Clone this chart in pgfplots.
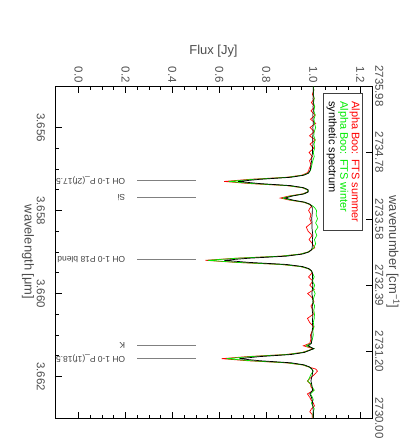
\documentclass[border=0pt]{standalone}
\usepackage{fontspec}
\setmainfont{Liberation Sans}
\usepackage{pgfplots}
\pgfplotsset{compat=1.18}
\usepackage{pgfplotstable}

\definecolor{idlred}{RGB}{255,0,0}
\definecolor{idlgreen}{RGB}{0,235,0}
\definecolor{labgray}{gray}{0.3}
\definecolor{linegray}{gray}{0.5}

% wavelength [micron], summer (r), winter (g), synthetic (k)
\pgfplotstableread{
wl r g k
3.65500 1.000 1.000 1.000
3.65510 1.002 1.002 1.000
3.65520 0.996 1.000 1.000
3.65530 1.004 1.004 0.999
3.65540 0.992 1.001 1.000
3.65550 1.006 1.006 0.999
3.65560 0.990 1.002 1.000
3.65570 1.008 1.008 0.998
3.65580 0.988 1.003 0.999
3.65590 1.010 1.005 1.000
3.65600 0.986 1.010 0.998
3.65610 1.004 1.004 0.999
3.65620 0.984 1.002 0.998
3.65630 1.008 1.008 0.997
3.65640 0.986 1.003 0.999
3.65650 1.002 1.006 0.996
3.65660 0.982 1.000 0.997
3.65670 0.996 1.004 0.994
3.65680 0.984 0.998 0.993
3.65690 0.990 0.994 0.990
3.65700 0.982 0.990 0.988
3.65705 0.980 0.986 0.985
3.65710 0.972 0.978 0.980
3.65715 0.950 0.955 0.960
3.65720 0.885 0.892 0.904
3.65725 0.726 0.741 0.770
3.65730 0.620 0.640 0.680
3.65735 0.726 0.741 0.770
3.65740 0.886 0.892 0.904
3.65745 0.952 0.954 0.959
3.65750 0.974 0.976 0.978
3.65755 0.976 0.977 0.979
3.65760 0.954 0.957 0.961
3.65765 0.897 0.905 0.912
3.65770 0.860 0.870 0.880
3.65775 0.899 0.906 0.914
3.65780 0.958 0.961 0.964
3.65785 0.983 0.984 0.986
3.65790 0.993 1.000 0.994
3.65795 0.985 1.008 0.996
3.65800 0.980 1.014 0.996
3.65810 0.990 1.012 0.995
3.65820 0.985 1.018 0.993
3.65830 0.992 1.010 0.995
3.65840 0.970 1.020 0.994
3.65850 0.978 1.008 0.996
3.65860 0.995 1.015 0.998
3.65870 0.982 1.005 0.996
3.65880 0.996 1.010 0.997
3.65890 1.006 1.002 0.995
3.65895 0.991 0.991 0.992
3.65900 0.977 0.978 0.981
3.65905 0.945 0.946 0.954
3.65910 0.862 0.865 0.886
3.65915 0.669 0.676 0.726
3.65920 0.540 0.550 0.620
3.65925 0.669 0.676 0.726
3.65930 0.862 0.865 0.886
3.65935 0.945 0.946 0.954
3.65940 0.977 0.978 0.981
3.65945 0.991 0.991 0.992
3.65950 0.995 0.996 0.996
3.65960 0.980 1.004 0.997
3.65970 0.998 0.996 0.995
3.65980 0.985 1.006 0.998
3.65990 1.004 1.000 0.996
3.66000 0.976 1.008 0.994
3.66010 0.995 1.002 0.997
3.66020 1.003 0.998 0.999
3.66030 0.990 1.006 0.996
3.66040 0.998 1.002 0.995
3.66050 1.000 1.005 0.998
3.66060 0.975 1.004 0.997
3.66070 0.985 1.000 0.996
3.66080 1.002 1.003 0.998
3.66090 0.996 0.998 0.995
3.66100 0.988 1.000 0.993
3.66110 0.990 0.996 0.994
3.66120 0.985 0.990 0.992
3.66126 0.958 0.970 0.978
3.66133 1.000 1.003 1.002
3.66137 0.980 0.982 0.984
3.66142 0.953 0.956 0.962
3.66147 0.883 0.889 0.906
3.66152 0.719 0.734 0.773
3.66157 0.610 0.630 0.685
3.66162 0.719 0.734 0.773
3.66167 0.883 0.889 0.906
3.66172 0.953 0.956 0.962
3.66177 0.980 0.982 0.984
3.66182 1.010 0.993 0.994
3.66187 1.018 1.000 0.998
3.66195 1.005 0.990 0.996
3.66205 0.985 0.982 0.992
3.66211 0.975 0.976 0.990
3.66218 0.988 0.990 0.993
3.66225 0.990 0.995 0.995
3.66233 1.002 1.004 0.997
3.66242 0.975 0.988 0.985
3.66250 0.985 0.996 0.992
3.66256 0.990 1.000 0.995
3.66264 1.000 0.992 0.997
3.66271 1.005 0.998 0.998
3.66278 0.992 1.004 0.999
3.66285 0.985 1.000 1.000
3.66292 0.996 0.998 1.000
3.66300 0.995 1.000 1.000
}\spec

\begin{document}
\begin{tikzpicture}
\useasboundingbox (-55bp,-27bp) rectangle (345bp,418bp);

\begin{axis}[
    name=main,
    scale only axis,
    width=317bp, height=332bp,
    xmin=-0.1, xmax=1.25,
    ymin=3.655, ymax=3.663,
    y dir=reverse,
    xtick={0,0.2,0.4,0.6,0.8,1.0,1.2},
    xticklabels={0.0,0.2,0.4,0.6,0.8,1.0,1.2},
    minor x tick num=3,
    xticklabel pos=right,
    ytick={3.656,3.658,3.660,3.662},
    yticklabels={3.656,3.658,3.660,3.662},
    minor y tick num=3,
    ytick pos=left,
    tick align=inside,
    major tick length=6.5bp,
    minor tick length=3.5bp,
    tick style={black, line width=0.6bp},
    axis line style={line width=0.9bp},
    tick label style={font=\fontsize{11.5}{12}\selectfont, text=labgray, inner sep=0pt},
    xticklabel style={rotate=-90, anchor=east},
    xticklabel shift=3bp,
    yticklabel style={rotate=-90, anchor=north},
    yticklabel shift=10bp,
]
\addplot[idlred, line width=0.7bp] table[x=r, y=wl] {\spec};
\addplot[idlgreen, line width=0.7bp] table[x=g, y=wl] {\spec};
\addplot[black, line width=0.7bp] table[x=k, y=wl] {\spec};

% line identifications
\addplot[linegray, line width=0.6bp] coordinates {(0.25,3.65728) (0.5,3.65728)};
\addplot[linegray, line width=0.6bp] coordinates {(0.25,3.65768) (0.5,3.65768)};
\addplot[linegray, line width=0.6bp] coordinates {(0.25,3.65918) (0.5,3.65918)};
\addplot[linegray, line width=0.6bp] coordinates {(0.25,3.66126) (0.5,3.66126)};
\addplot[linegray, line width=0.6bp] coordinates {(0.25,3.66157) (0.5,3.66157)};

\begin{scope}[every node/.style={rotate=180, anchor=west, inner sep=0pt,
    font=\fontsize{8.5}{9}\selectfont, text=black!75}]
\node at (axis cs:0.2,3.65728) {OH 1-0 P\_(2f)17.5};
\node at (axis cs:0.2,3.65768) {Si};
\node at (axis cs:0.2,3.65918) {OH 1-0 P18 blend};
\node at (axis cs:0.2,3.66126) {K};
\node at (axis cs:0.2,3.66157) {OH 1-0 P\_(1f)18.5};
\end{scope}

\node[draw=black!75, line width=0.6bp, rotate=-90, anchor=north west,
      align=left, inner xsep=8bp, inner ysep=3bp,
      font=\fontsize{11}{11.5}\selectfont]
  at (axis cs:1.212,3.65517)
  {\textcolor{idlred}{Alpha Boo: FTS summer}\\
   \textcolor{idlgreen}{Alpha Boo: FTS winter}\\
   synthetic spectrum};
\end{axis}

% wavenumber scale on the right
\begin{axis}[
    scale only axis,
    width=317bp, height=332bp,
    xmin=-0.1, xmax=1.25,
    ymin=3.655, ymax=3.663,
    y dir=reverse,
    hide x axis,
    axis y line*=right,
    ytick={3.655,3.6566,3.6582,3.6598,3.6614,3.663},
    yticklabels={2735.98,2734.78,2733.58,2732.39,2731.20,2730.00},
    tick align=inside,
    major tick length=6bp,
    tick style={black, line width=0.6bp},
    axis line style={line width=0.9bp},
    tick label style={font=\fontsize{11.5}{12}\selectfont, text=labgray, inner sep=0pt},
    yticklabel style={rotate=-90, anchor=south},
    yticklabel shift=3bp,
]
\end{axis}

\node[anchor=base, font=\fontsize{13}{13}\selectfont, text=labgray]
  at ([yshift=32bp]main.north) {Flux [Jy]};
\node[rotate=-90, font=\fontsize{13}{13}\selectfont, text=labgray]
  at ([xshift=-27bp]main.west) {wavelength [μm]};
\node[rotate=-90, font=\fontsize{13}{13}\selectfont, text=labgray]
  at ([xshift=21bp]main.east) {wavenumber [cm\textsuperscript{−1}]};
\end{tikzpicture}
\end{document}
